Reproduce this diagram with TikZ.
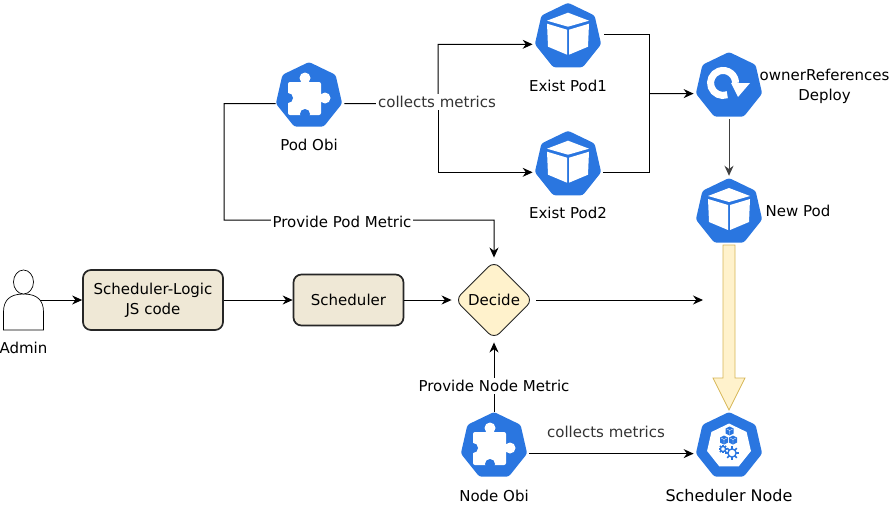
\documentclass[tikz,border=0pt]{standalone}
\usepackage{fontspec}
\setmainfont{DejaVu Sans}
\usetikzlibrary{shapes.geometric, arrows.meta}
\definecolor{kube-blue}{HTML}{2A76E0}
\definecolor{box-tan}{HTML}{EFE8D6}
\definecolor{soft-yellow}{HTML}{FFF2CC}
\definecolor{soft-gold}{HTML}{D6B656}
\tikzset{
  kube/.style={regular polygon, regular polygon sides=7, minimum size=68pt,
    inner sep=0pt, fill=kube-blue, rounded corners=2.5pt},
  logicbox/.style={draw=black!85, line width=1.7pt, fill=box-tan,
    rounded corners=8pt, align=center},
  caption/.style={align=center, inner sep=1pt},
  linklabel/.style={fill=white, inner sep=2pt},
  link/.style={line width=1pt, -{Stealth[length=10pt,width=9pt]}},
  linkplain/.style={line width=1pt},
  pics/podcube/.style={code={
    \fill[white] (0,-24) -- (-21,-16) -- (0,-10) -- (21,-16) -- cycle;
    \fill[white] (-21,-13) -- (-1,-7) -- (-1,18) -- (-20,10) -- cycle;
    \fill[white] (21,-13) -- (1,-7) -- (1,18) -- (20,10) -- cycle;
  }},
  pics/puzzle/.style={code={
    \fill[white, rounded corners=2pt] (-21,-14) rectangle (12,19);
    \fill[white] (-4,-18) circle[radius=5.5];
    \fill[white] (16,2) circle[radius=5.5];
    \fill[kube-blue] (-21,2) circle[radius=5];
    \fill[kube-blue] (-4,18) circle[radius=5];
  }},
  pics/rollout/.style={code={
    \draw[white, line width=7pt] (-1.7,8.7) arc[start angle=70, end angle=360, radius=12.5];
    \fill[white] (2,-3) -- (21,-3) -- (9,11) -- cycle;
  }},
  pics/minicube/.style={code={
    \fill[kube-blue] (0,-4.5) -- (4,-2.5) -- (4,2.5) -- (0,4.5) -- (-4,2.5) -- (-4,-2.5) -- cycle;
    \draw[white, line width=0.4pt] (-3,-2) -- (0,-0.5) -- (3,-2) (0,-0.5) -- (0,3.5);
  }},
  pics/gear/.style={code={
    \foreach \ang in {0,45,...,315}
      \draw[kube-blue, line width=1.6pt] (\ang:#1*0.7) -- (\ang:#1*1.25);
    \draw[kube-blue, line width=1.4pt, fill=white] (0,0) circle[radius=#1*0.75];
  }},
}
\begin{document}
\begin{tikzpicture}[x=1pt, y=-1pt, every node/.style={font=\fontsize{15}{20}\selectfont}]
    \useasboundingbox (0,0) rectangle (890,506);
    % ---- Admin and the main row
    \draw[line width=0.7pt, fill=white] (3.5,330) -- (3.5,312) .. controls (3.5,300) and (10,294) .. (23.5,294)
      .. controls (37,294) and (43.5,300) .. (43.5,312) -- (43.5,330) -- cycle;
    \draw[line width=0.7pt, fill=white] (23.5,282) ellipse[x radius=10, y radius=12];
    \coordinate (admin-out) at (40,300);
    \node[caption] (admin-label) at (23.5,348) {Admin};
    \node[logicbox, minimum width=140pt, minimum height=60pt] (logic) at (153,300) {Scheduler-Logic\\JS code};
    \node[logicbox, minimum width=110pt, minimum height=51pt] (scheduler) at (348.5,300) {Scheduler};
    \node[diamond, draw=black!85, line width=0.9pt, fill=soft-yellow, rounded corners=8pt,
      minimum width=78pt, minimum height=78pt, inner sep=0pt] (decide) at (494,300) {Decide};
    \coordinate (decide-out) at (703,300);
    % ---- Blue icons
    \node[kube] (pod-obi) at (309,96) {};
    \pic at (pod-obi) {puzzle};
    \node[caption] (pod-obi-label) at (309,145) {Pod Obi};
    \node[kube] (exist-pod-one) at (568,36.7) {};
    \pic at (exist-pod-one) {podcube};
    \node[caption] (exist-pod-one-label) at (568,86) {Exist Pod1};
    \node[kube] (exist-pod-two) at (568,164.7) {};
    \pic at (exist-pod-two) {podcube};
    \node[caption] (exist-pod-two-label) at (568,213) {Exist Pod2};
    \node[kube] (deploy) at (729,86) {};
    \pic at (deploy) {rollout};
    \node[caption] (deploy-label) at (824.5,86) {ownerReferences\\Deploy};
    \node[kube] (new-pod) at (729,212) {};
    \pic at (new-pod) {podcube};
    \node[caption] (new-pod-label) at (798,211) {New Pod};
    \node[kube] (node-obi) at (494,446) {};
    \pic at (node-obi) {puzzle};
    \node[caption] (node-obi-label) at (494,496) {Node Obi};
    \node[kube] (sched-node) at (729,446) {};
    \node[regular polygon, regular polygon sides=7, minimum size=45pt, inner sep=0pt, fill=white] (sched-inner) at (sched-node) {};
    \pic at (729.7,431) {minicube};
    \pic at (724,440) {minicube};
    \pic at (733,440) {minicube};
    \pic at (723,449) {gear=3.5};
    \pic at (732,453) {gear=5.5};
    \node[caption, font=\fontsize{16}{20}\selectfont] (sched-node-label) at (729,496) {Scheduler Node};
    % ---- Connectors
    \draw[link] (admin-out) -- (logic.west);
    \draw[link] (logic.east) -- (scheduler.west);
    \draw[link, shorten >=3pt] (scheduler.east) -- (decide.west);
    \draw[link, shorten <=3pt] (decide.east) -- (decide-out);
    \coordinate (pod-fork) at (438,103.6);
    \coordinate (pod-corner) at (224,103.6);
    \coordinate (metric-corner) at (224,220);
    \draw[link, shorten <=2pt] (pod-obi.corner 6) -- (pod-fork) |- ([xshift=-2pt]exist-pod-one.corner 3);
    \draw[link] (pod-fork) |- ([xshift=-2pt]exist-pod-two.corner 3);
    \node[linklabel, text=black!80] (pod-collect-label) at (437,102) {collects metrics};
    \draw[link, shorten >=3pt] (pod-obi.corner 3) -- (pod-corner) -- (metric-corner) -| (decide.north);
    \node[linklabel] (pod-metric-label) at (342,222) {Provide Pod Metric};
    \coordinate (deploy-in) at (649,93.6);
    \draw[linkplain] (604,34) -| (deploy-in);
    \draw[linkplain] (603,172) -| (deploy-in);
    \draw[link, shorten >=2pt] (deploy-in) -- (deploy.corner 3);
    \draw[link, black!75, shorten >=2pt] (deploy) ++(0,33) -- (new-pod.corner 1);
    \draw[link, shorten >=3pt] (node-obi.corner 1) -- (decide.south);
    \node[linklabel] (node-metric-label) at (494,386) {Provide Node Metric};
    \draw[link, shorten <=2pt, shorten >=2pt] (node-obi.corner 6) -- (sched-node.corner 3);
    \node[inner sep=1pt, text=black!80] (node-collect-label) at (606,432) {collects metrics};
    % ---- Placement arrow
    \draw[draw=soft-gold, fill=soft-yellow, line width=0.8pt] (723,245) -- (735,245) -- (735,378) -- (745,378)
      -- (729,410) -- (713,378) -- (723,378) -- cycle;
\end{tikzpicture}
\end{document}
